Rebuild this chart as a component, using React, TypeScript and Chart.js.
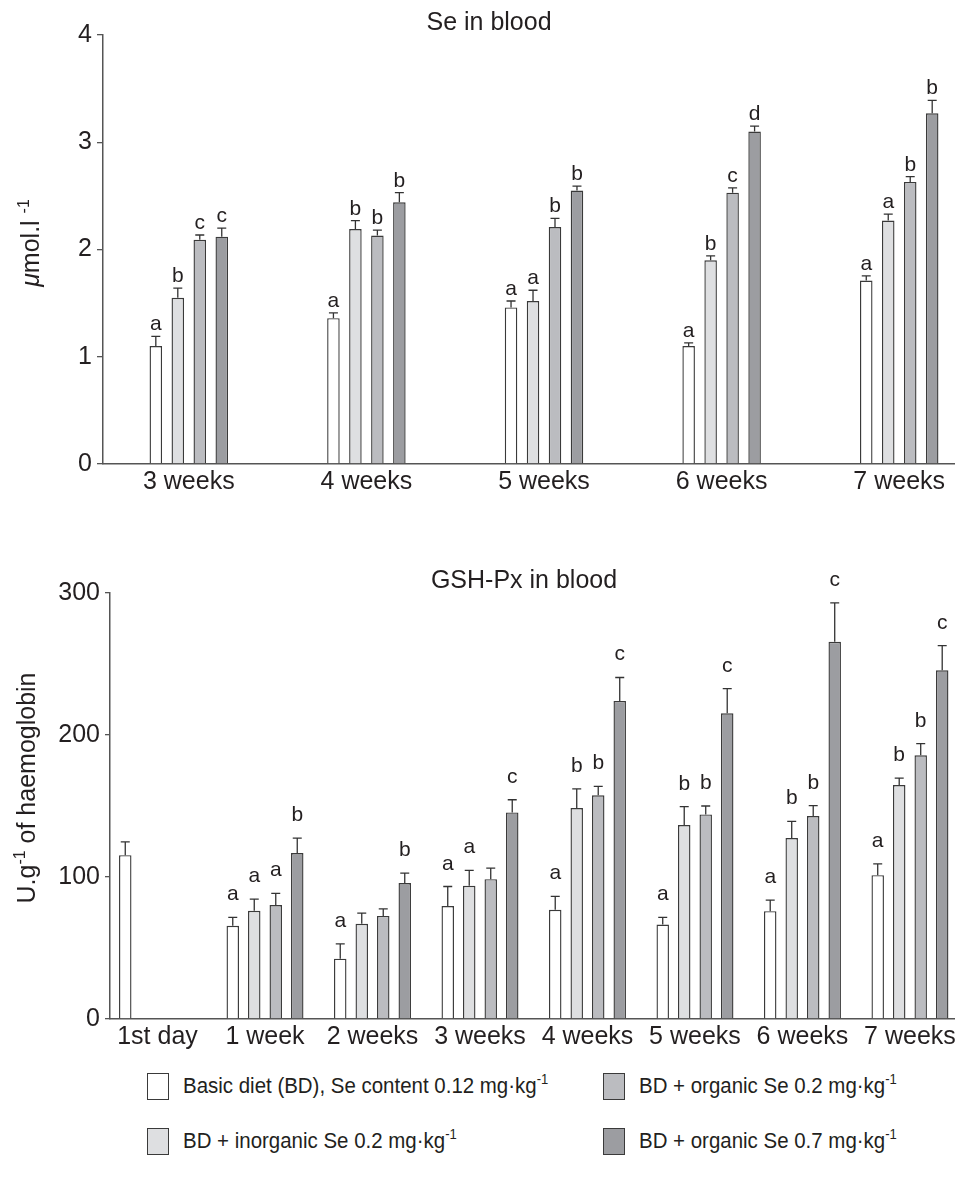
import React, { useEffect, useRef } from 'react';
import { Chart, registerables } from 'chart.js';

Chart.register(...registerables);

const FONT = '"Liberation Sans", Arial, Helvetica, sans-serif';
const TEXT = '#231f20';
const AXIS = '#555555';
const BORDER = '#3a3a3a';

// ---------- Series (legend) ----------
const seriesNames = [
  'Basic diet (BD), Se content 0.12 mg\u00b7kg',
  'BD + inorganic Se 0.2 mg\u00b7kg',
  'BD + organic Se 0.2 mg\u00b7kg',
  'BD + organic Se 0.7 mg\u00b7kg',
];
const seriesColors = ['#ffffff', '#dedfe1', '#bbbcc0', '#9c9da1'];

// ---------- Se in blood ----------
const seCategories = ['3 weeks', '4 weeks', '5 weeks', '6 weeks', '7 weeks'];
const seBasic = [1.10, 1.36, 1.46, 1.10, 1.71];
const seBasicErr = [0.09, 0.05, 0.06, 0.03, 0.045];
const seInorg02 = [1.55, 2.19, 1.52, 1.90, 2.27];
const seInorg02Err = [0.09, 0.08, 0.10, 0.04, 0.06];
const seOrg02 = [2.09, 2.13, 2.21, 2.53, 2.63];
const seOrg02Err = [0.045, 0.05, 0.08, 0.045, 0.05];
const seOrg07 = [2.12, 2.44, 2.55, 3.10, 3.27];
const seOrg07Err = [0.08, 0.09, 0.04, 0.05, 0.12];
const seBasicLetters = ['a', 'a', 'a', 'a', 'a'];
const seInorg02Letters = ['b', 'b', 'a', 'b', 'a'];
const seOrg02Letters = ['c', 'b', 'b', 'c', 'b'];
const seOrg07Letters = ['c', 'b', 'b', 'd', 'b'];
const seTicks = [0, 1, 2, 3, 4];

// ---------- GSH-Px in blood ----------
const gshCategories = ['1st day', '1 week', '2 weeks', '3 weeks', '4 weeks', '5 weeks', '6 weeks', '7 weeks'];
const gshBasic = [115.4, 65.6, 42.5, 79.5, 76.9, 66.5, 75.9, 101.3];
const gshBasicErr = [9.4, 5.9, 10.4, 13.8, 9.4, 5.0, 7.8, 8.0];
const gshInorg02 = [null, 76.2, 67.0, 93.8, 148.6, 136.6, 127.4, 164.8];
const gshInorg02Err = [null, 8.2, 7.5, 10.8, 13.4, 12.9, 11.8, 4.9];
const gshOrg02 = [null, 80.2, 72.6, 98.5, 157.5, 144.1, 142.9, 185.7];
const gshOrg02Err = [null, 8.2, 5.0, 7.8, 6.3, 5.9, 7.3, 8.2];
const gshOrg07 = [null, 116.9, 95.7, 145.5, 224.0, 215.3, 265.6, 245.6];
const gshOrg07Err = [null, 10.5, 7.0, 8.9, 16.5, 17.4, 27.5, 17.4];
const gshBasicLetters = ['', 'a', 'a', 'a', 'a', 'a', 'a', 'a'];
const gshInorg02Letters = ['', 'a', '', 'a', 'b', 'b', 'b', 'b'];
const gshOrg02Letters = ['', 'a', '', '', 'b', 'b', 'b', 'b'];
const gshOrg07Letters = ['', 'b', 'b', 'c', 'c', 'c', 'c', 'c'];
const gshTicks = [0, 100, 200, 300];

type Part = { text: string; italic?: boolean; sup?: boolean };

function errorLetterPlugin(errors: (number | null)[][], letters: string[][], gap: number, fontSize: number) {
  return {
    id: 'errLetters',
    afterDatasetsDraw(chart: any) {
      const ctx = chart.ctx;
      const ys = chart.scales.y;
      ctx.save();
      chart.data.datasets.forEach((ds: any, di: number) => {
        const meta = chart.getDatasetMeta(di);
        meta.data.forEach((bar: any, i: number) => {
          const v = ds.data[i].y;
          if (v == null) return;
          const e = errors[di][i] ?? 0;
          const top = ys.getPixelForValue(v + e);
          const bx = bar.x;
          ctx.strokeStyle = '#333333';
          ctx.lineWidth = 1.3;
          ctx.beginPath();
          ctx.moveTo(bx, bar.y);
          ctx.lineTo(bx, top);
          ctx.moveTo(bx - 4.5, top);
          ctx.lineTo(bx + 4.5, top);
          ctx.stroke();
          const L = letters[di][i];
          if (L) {
            ctx.fillStyle = TEXT;
            ctx.font = `${fontSize}px ${FONT}`;
            ctx.textAlign = 'center';
            ctx.textBaseline = 'alphabetic';
            ctx.fillText(L, bx, top - gap);
          }
        });
      });
      ctx.restore();
    },
  };
}

function textPlugin(title: string, tx: number, ty: number, parts: Part[], bx: number, cy: number, size: number) {
  return {
    id: 'texts',
    afterDraw(chart: any) {
      const ctx = chart.ctx;
      ctx.save();
      ctx.fillStyle = TEXT;
      ctx.font = `${size}px ${FONT}`;
      ctx.textAlign = 'center';
      ctx.textBaseline = 'alphabetic';
      ctx.fillText(title, tx, ty);
      // rotated axis title
      const supSize = Math.round(size * 0.62);
      const fontOf = (p: Part) => `${p.italic ? 'italic ' : ''}${p.sup ? supSize : size}px ${FONT}`;
      let total = 0;
      parts.forEach((p) => {
        ctx.font = fontOf(p);
        total += ctx.measureText(p.text).width;
      });
      ctx.translate(bx, cy);
      ctx.rotate(-Math.PI / 2);
      ctx.textAlign = 'left';
      let x = -total / 2;
      parts.forEach((p) => {
        ctx.font = fontOf(p);
        ctx.fillText(p.text, x, p.sup ? -size * 0.42 : 0);
        x += ctx.measureText(p.text).width;
      });
      ctx.restore();
    },
  };
}

function makeDatasets(values: (number | null)[][], catPct: number, barPct: number) {
  return values.map((vals, si) => ({
    label: seriesNames[si],
    data: vals.map((v, i) => ({ x: i, y: v })),
    backgroundColor: seriesColors[si],
    borderColor: BORDER,
    borderWidth: 1.4,
    categoryPercentage: catPct,
    barPercentage: barPct,
  }));
}

function buildConfig(opts: {
  categories: string[];
  values: (number | null)[][];
  errors: (number | null)[][];
  letters: string[][];
  xmin: number;
  xmax: number;
  ymax: number;
  yTicks: number[];
  yWidth: number;
  xHeight: number;
  padTop: number;
  catPct: number;
  barPct: number;
  tickLen: number;
  gap: number;
  title: string;
  tx: number;
  ty: number;
  parts: Part[];
  bx: number;
  cy: number;
}) {
  const font = { family: FONT, size: 25 };
  return {
    type: 'bar' as const,
    data: { datasets: makeDatasets(opts.values, opts.catPct, opts.barPct) },
    options: {
      responsive: false,
      animation: false as const,
      layout: { padding: { top: opts.padTop, left: 0, right: 0, bottom: 0 } },
      plugins: { legend: { display: false }, tooltip: { enabled: false }, title: { display: false } },
      scales: {
        x: {
          type: 'linear' as const,
          min: opts.xmin,
          max: opts.xmax,
          offset: false,
          afterBuildTicks: (s: any) => {
            s.ticks = opts.categories.map((_, i) => ({ value: i }));
          },
          afterFit: (s: any) => {
            s.height = opts.xHeight;
            s.paddingLeft = 0;
            s.paddingRight = 0;
          },
          ticks: {
            callback: (v: any) => opts.categories[v] ?? '',
            autoSkip: false,
            maxRotation: 0,
            minRotation: 0,
            font,
            color: TEXT,
            padding: 3,
          },
          grid: { display: false, drawTicks: false },
          border: { display: true, color: AXIS, width: 1.5 },
        },
        y: {
          min: 0,
          max: opts.ymax,
          afterBuildTicks: (s: any) => {
            s.ticks = opts.yTicks.map((v) => ({ value: v }));
          },
          afterFit: (s: any) => {
            s.width = opts.yWidth;
          },
          ticks: { font, color: TEXT, padding: 5 },
          grid: {
            drawOnChartArea: false,
            drawTicks: true,
            tickLength: opts.tickLen,
            color: AXIS,
            lineWidth: 1.3,
          },
          border: { display: true, color: AXIS, width: 1.5 },
        },
      },
    },
    plugins: [
      errorLetterPlugin(opts.errors, opts.letters, opts.gap, 21),
      textPlugin(opts.title, opts.tx, opts.ty, opts.parts, opts.bx, opts.cy, 25),
    ],
  };
}

export default function App() {
  const topRef = useRef<HTMLCanvasElement>(null);
  const botRef = useRef<HTMLCanvasElement>(null);

  useEffect(() => {
    const top = new Chart(
      topRef.current as HTMLCanvasElement,
      buildConfig({
        categories: seCategories,
        values: [seBasic, seInorg02, seOrg02, seOrg07],
        errors: [seBasicErr, seInorg02Err, seOrg02Err, seOrg07Err],
        letters: [seBasicLetters, seInorg02Letters, seOrg02Letters, seOrg07Letters],
        xmin: -0.483,
        xmax: 4.314,
        ymax: 4,
        yTicks: seTicks,
        yWidth: 103,
        xHeight: 56,
        padTop: 35,
        catPct: 0.495,
        barPct: 0.57,
        tickLen: 6,
        gap: 6,
        title: 'Se in blood',
        tx: 489,
        ty: 30,
        parts: [{ text: '\u03bc', italic: true }, { text: 'mol.l ' }, { text: '-1', sup: true }],
        bx: 39,
        cy: 243,
      }) as any
    );
    const bot = new Chart(
      botRef.current as HTMLCanvasElement,
      buildConfig({
        categories: gshCategories,
        values: [gshBasic, gshInorg02, gshOrg02, gshOrg07],
        errors: [gshBasicErr, gshInorg02Err, gshOrg02Err, gshOrg07Err],
        letters: [gshBasicLetters, gshInorg02Letters, gshOrg02Letters, gshOrg07Letters],
        xmin: -0.442,
        xmax: 7.419,
        ymax: 300,
        yTicks: gshTicks,
        yWidth: 110,
        xHeight: 41,
        padTop: 53,
        catPct: 0.8,
        barPct: 0.58,
        tickLen: 5,
        gap: 17,
        title: 'GSH-Px in blood',
        tx: 524,
        ty: 48,
        parts: [{ text: 'U.g' }, { text: '-1', sup: true }, { text: ' of haemoglobin' }],
        bx: 35,
        cy: 248,
      }) as any
    );
    return () => {
      top.destroy();
      bot.destroy();
    };
  }, []);

  const legendOrder = [0, 1, 2, 3];
  return (
    <div
      style={{
        position: 'absolute',
        left: 0,
        top: 0,
        width: 955,
        height: 1182,
        background: '#ffffff',
        fontFamily: FONT,
        overflow: 'hidden',
      }}
    >
      <canvas ref={topRef} width={955} height={520} style={{ position: 'absolute', left: 0, top: 0, display: 'block' }} />
      <canvas ref={botRef} width={955} height={520} style={{ position: 'absolute', left: 0, top: 540, display: 'block' }} />
      {legendOrder.map((si) => {
        const col = Math.floor(si / 2);
        const row = si % 2;
        return (
          <div
            key={si}
            style={{
              position: 'absolute',
              left: col === 0 ? 147 : 603,
              top: row === 0 ? 1072 : 1127,
              height: 28,
              display: 'flex',
              alignItems: 'center',
              whiteSpace: 'nowrap',
            }}
          >
            <div
              style={{
                width: 22,
                height: 27,
                boxSizing: 'border-box',
                border: `1.5px solid ${BORDER}`,
                background: seriesColors[si],
                flex: '0 0 auto',
              }}
            />
            <span
              style={{
                display: 'inline-block',
                marginLeft: 14,
                fontSize: 22,
                color: TEXT,
                transform: 'scaleX(0.93)',
                transformOrigin: 'left center',
              }}
            >
              {seriesNames[si]}
              <sup style={{ fontSize: 14, verticalAlign: 'baseline', position: 'relative', top: -9 }}>-1</sup>
            </span>
          </div>
        );
      })}
    </div>
  );
}
